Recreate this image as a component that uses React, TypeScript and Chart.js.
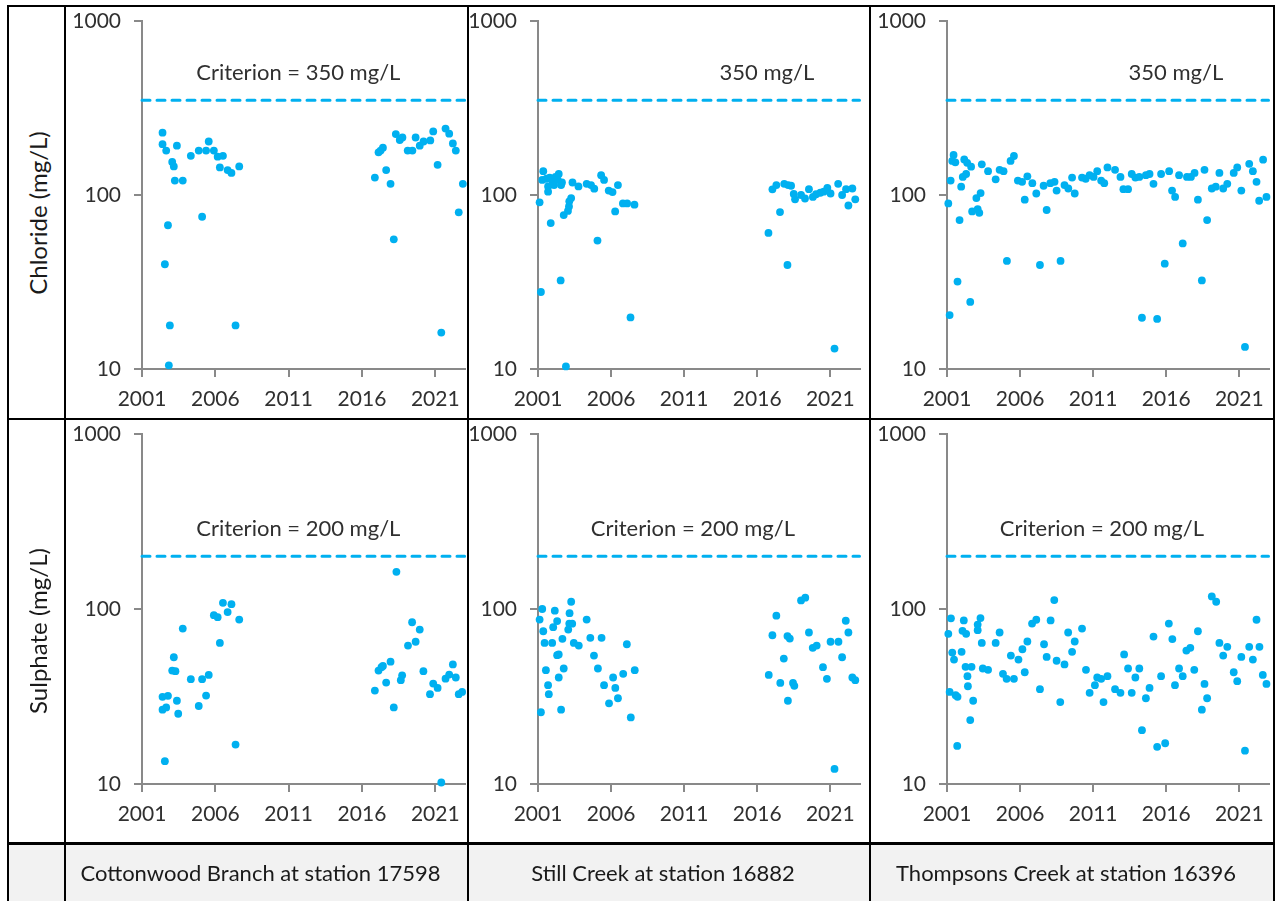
import React, { useEffect, useRef } from 'react';
import { Chart, registerables } from 'chart.js';

Chart.register(...registerables);

// ---------- data ----------
const yearTicks = [2001, 2006, 2011, 2016, 2021];
const valueTicks = [10, 100, 1000];
const yearMin = 2001;
const yearMax = 2023;

const stations = [
  'Cottonwood Branch at station 17598',
  'Still Creek at station 16882',
  'Thompsons Creek at station 16396',
];
const parameters = ['Chloride (mg/L)', 'Sulphate (mg/L)'];
const criteria = [350, 200];
const criterionLabels = [
  ['Criterion = 350 mg/L', '350 mg/L', '350 mg/L'],
  ['Criterion = 200 mg/L', 'Criterion = 200 mg/L', 'Criterion = 200 mg/L'],
];

type Pt = [number, number];

const cottonwoodChloride: Pt[] = [
  [2002.4, 228], [2002.4, 196], [2002.65, 180], [2002.77, 67], [2002.56, 40], [2002.9, 17.8],
  [2002.83, 10.5], [2003.06, 155], [2003.17, 146], [2003.38, 192], [2003.24, 121], [2003.78, 121],
  [2004.33, 168], [2004.87, 180], [2005.1, 75], [2005.37, 180], [2005.55, 203], [2005.9, 180],
  [2006.16, 166], [2006.52, 168], [2006.31, 144], [2006.84, 139], [2007.1, 134], [2007.38, 17.8],
  [2007.63, 146],
  [2016.88, 126], [2017.13, 176], [2017.27, 180], [2017.43, 187], [2017.65, 139], [2017.95, 116],
  [2018.17, 55.6], [2018.31, 224], [2018.58, 207], [2018.76, 214], [2019.12, 180], [2019.44, 180],
  [2019.66, 214], [2019.94, 192], [2020.2, 203], [2020.66, 206], [2020.86, 232], [2021.16, 149],
  [2021.41, 16.2], [2021.7, 241], [2021.95, 225], [2022.2, 198], [2022.4, 180], [2022.6, 79.5],
  [2022.88, 116],
];

const stillChloride: Pt[] = [
  [2001.11, 90.8], [2001.2, 27.7], [2001.36, 137], [2001.29, 122], [2001.58, 124], [2001.69, 112],
  [2001.69, 104.5], [2001.87, 69], [2001.8, 126], [2002.0, 119], [2002.1, 114], [2002.2, 127],
  [2002.35, 122], [2002.42, 132], [2002.58, 114], [2002.64, 118], [2002.55, 32.3], [2002.76, 76.7],
  [2002.91, 10.35], [2003.05, 81], [2003.14, 92], [2003.27, 96], [2003.12, 86], [2003.36, 118],
  [2003.77, 112], [2004.33, 116], [2004.63, 114], [2004.85, 108.7], [2005.07, 54.7], [2005.32, 130],
  [2005.52, 122], [2005.84, 106], [2006.1, 104], [2006.28, 80.5], [2006.47, 114], [2006.81, 89.5],
  [2007.1, 89.5], [2007.33, 19.8], [2007.6, 88],
  [2016.77, 60.5], [2017.04, 107.8], [2017.31, 114], [2017.56, 79.8], [2017.85, 116], [2018.07, 39.6],
  [2018.12, 114], [2018.32, 113], [2018.5, 101.4], [2018.59, 94.4], [2019.0, 100], [2019.27, 95.5],
  [2019.54, 108], [2019.81, 97.5], [2020.03, 101], [2020.32, 103], [2020.55, 104.5], [2020.8, 110],
  [2021.02, 102], [2021.29, 13.1], [2021.54, 116], [2021.81, 100], [2022.08, 108], [2022.24, 87],
  [2022.51, 109], [2022.71, 94.4],
];

const thompsonsChloride: Pt[] = [
  [2001.09, 89.5], [2001.18, 20.4], [2001.25, 121], [2001.45, 170], [2001.36, 157], [2001.57, 154],
  [2001.72, 31.8], [2001.86, 71.8], [2001.97, 111.7], [2002.08, 127], [2002.18, 160], [2002.31, 132],
  [2002.38, 153], [2002.59, 24.3], [2002.65, 145.5], [2002.72, 80.5], [2003.01, 96], [2003.1, 83],
  [2003.21, 79], [2003.3, 102.6], [2003.38, 150], [2003.81, 137], [2004.33, 123], [2004.6, 139.5],
  [2004.87, 137], [2005.1, 41.8], [2005.35, 157], [2005.58, 167.5], [2005.85, 121], [2006.14, 119],
  [2006.32, 94], [2006.5, 128], [2006.84, 117], [2007.11, 102], [2007.36, 39.6], [2007.61, 113],
  [2007.82, 82], [2008.07, 117], [2008.36, 119], [2008.5, 106], [2008.77, 41.8], [2009.04, 114],
  [2009.3, 109], [2009.56, 126], [2009.74, 102], [2010.24, 126], [2010.49, 124], [2010.76, 130],
  [2011.03, 127], [2011.28, 137], [2011.55, 121], [2011.76, 117], [2011.98, 144], [2012.5, 139.5],
  [2012.87, 127], [2013.07, 108], [2013.39, 108], [2013.64, 132], [2013.89, 126], [2014.16, 127],
  [2014.34, 19.7], [2014.61, 130], [2014.86, 132], [2015.13, 116], [2015.38, 19.4], [2015.65, 132],
  [2015.9, 40.3], [2016.2, 137], [2016.4, 106], [2016.61, 97.5], [2016.88, 130], [2017.13, 52.7],
  [2017.42, 127], [2017.69, 127], [2017.94, 134], [2018.17, 94], [2018.44, 32.3], [2018.62, 139.5],
  [2018.8, 71.8], [2019.12, 109], [2019.39, 111.7], [2019.64, 134], [2019.9, 109], [2020.18, 116],
  [2020.62, 134], [2020.86, 144], [2021.14, 106], [2021.39, 13.4], [2021.68, 151], [2021.93, 137],
  [2022.18, 119], [2022.36, 92.7], [2022.63, 159.5], [2022.86, 97.5],
];

const cottonwoodSulphate: Pt[] = [
  [2002.4, 31.5], [2002.4, 26.6], [2002.65, 27.4], [2002.77, 31.9], [2002.56, 13.5], [2003.06, 44.5],
  [2003.17, 53], [2003.28, 44.1], [2003.38, 29.9], [2003.47, 25.2], [2003.78, 77.3], [2004.33, 39.7],
  [2004.87, 27.9], [2005.1, 39.7], [2005.37, 32], [2005.55, 42], [2005.9, 92.2], [2006.16, 89.8],
  [2006.31, 64], [2006.52, 108.4], [2006.84, 96], [2007.1, 106.6], [2007.38, 16.8], [2007.63, 87],
  [2016.88, 34.2], [2017.13, 44.5], [2017.33, 46.5], [2017.43, 47.3], [2017.65, 38], [2017.95, 50],
  [2018.17, 27.4], [2018.35, 163], [2018.65, 39.2], [2018.74, 41.8], [2019.14, 61.8], [2019.42, 84],
  [2019.66, 65], [2019.94, 76.3], [2020.19, 44.1], [2020.64, 32.6], [2020.86, 37.5], [2021.16, 35.4],
  [2021.41, 10.2], [2021.7, 40], [2021.95, 42.2], [2022.2, 48.2], [2022.4, 40.6], [2022.6, 32.6],
  [2022.83, 33.6],
];

const stillSulphate: Pt[] = [
  [2001.11, 87], [2001.2, 25.7], [2001.29, 100], [2001.36, 74.6], [2001.45, 64], [2001.54, 44.7],
  [2001.69, 36.7], [2001.74, 32.6], [2001.97, 64], [2002.04, 78.7], [2002.15, 97.8], [2002.31, 85.3],
  [2002.31, 54.5], [2002.42, 55], [2002.42, 40.6], [2002.58, 26.6], [2002.67, 67.5], [2002.76, 45.7],
  [2003.07, 76.3], [2003.16, 94.6], [2003.27, 110], [2003.14, 82.6], [2003.34, 82.4], [2003.45, 64],
  [2003.79, 61.8], [2004.33, 87], [2004.58, 68.4], [2004.83, 54.2], [2005.1, 45.7], [2005.35, 68.4],
  [2005.52, 36.7], [2005.86, 28.9], [2006.14, 40.6], [2006.29, 35.4], [2006.47, 30.9], [2006.83, 42.6],
  [2007.08, 62.9], [2007.35, 24], [2007.62, 44.7],
  [2016.79, 42], [2017.04, 70.8], [2017.31, 91.6], [2017.58, 37.8], [2017.82, 52.1], [2018.07, 70],
  [2018.1, 29.9], [2018.23, 67.8], [2018.45, 37.8], [2018.54, 36.4], [2019.0, 112], [2019.29, 116],
  [2019.54, 73.4], [2019.8, 60], [2020.07, 61.8], [2020.5, 46.5], [2020.77, 39.9], [2021.02, 65],
  [2021.29, 12.2], [2021.56, 65], [2021.81, 53], [2022.06, 85.7], [2022.24, 73.4], [2022.51, 40.6],
  [2022.71, 39.2],
];

const thompsonsSulphate: Pt[] = [
  [2001.09, 72.1], [2001.27, 88.5], [2001.18, 33.6], [2001.36, 56.4], [2001.48, 51.4], [2001.59, 32.2],
  [2001.72, 31.5], [2001.7, 16.5], [2002.0, 56.9], [2002.06, 75], [2002.15, 86], [2002.31, 72.1],
  [2002.27, 46.7], [2002.4, 41.3], [2002.43, 36.2], [2002.59, 23.2], [2002.68, 46.7], [2002.79, 29.9],
  [2003.1, 75.7], [2003.1, 81.5], [2003.29, 88.7], [2003.38, 64], [2003.45, 45.7], [2003.81, 44.9],
  [2004.33, 64], [2004.6, 73.4], [2004.83, 42.6], [2005.08, 39.9], [2005.37, 54.2], [2005.58, 39.9],
  [2005.89, 51.4], [2006.16, 58.9], [2006.32, 43.5], [2006.5, 65.2], [2006.82, 82.6], [2007.11, 86.8],
  [2007.36, 34.8], [2007.64, 62.9], [2007.82, 53.2], [2008.09, 86], [2008.34, 112.4], [2008.5, 50.6],
  [2008.75, 29.4], [2009.04, 48.2], [2009.29, 73.4], [2009.56, 56.9], [2009.74, 65.2], [2010.24, 77.3],
  [2010.51, 44.9], [2010.76, 33.2], [2011.12, 36.7], [2011.28, 40.6], [2011.55, 39.9], [2011.71, 29.4],
  [2011.98, 41.3], [2012.5, 34.8], [2012.87, 33.2], [2013.12, 55], [2013.39, 45.7], [2013.64, 33.2],
  [2013.89, 40.6], [2014.16, 45.7], [2014.34, 20.3], [2014.61, 30.9], [2014.86, 35.4], [2015.13, 69.6],
  [2015.38, 16.3], [2015.65, 41.3], [2015.93, 17.1], [2016.18, 82.6], [2016.42, 67.3], [2016.6, 36.7],
  [2016.88, 45.7], [2017.13, 41.3], [2017.38, 57.9], [2017.65, 60], [2017.92, 44.9], [2018.17, 74.6],
  [2018.44, 26.6], [2018.62, 37.3], [2018.8, 30.9], [2019.12, 118], [2019.42, 110], [2019.64, 64],
  [2019.9, 54.2], [2020.18, 60.8], [2020.62, 43.5], [2020.86, 38.7], [2021.14, 53.2], [2021.39, 15.5],
  [2021.68, 60.8], [2021.93, 51.4], [2022.18, 86.8], [2022.38, 60.8], [2022.61, 42], [2022.86, 37.3],
];

const seriesGrid: Pt[][][] = [
  [cottonwoodChloride, stillChloride, thompsonsChloride],
  [cottonwoodSulphate, stillSulphate, thompsonsSulphate],
];

// where each criterion caption sits, in data units (year, mg/L)
const captionYears = [
  [2011.66, 2016.66, 2016.66],
  [2011.66, 2011.6, 2011.6],
];
const captionValues = [505, 288];

// ---------- styling / layout ----------
const BLUE = '#00b0f0';
const AXIS = '#898989';
const TEXT = '#303030';
const FONT = 'Lato, "Open Sans", sans-serif';

const colPlotLeft = [142, 538, 947];
const colPlotWidth = [324, 323, 323];
const rowPlotTop = [21, 434];
const rowPlotHeight = [348, 350];

const Y_AXIS_W = 76;
const X_AXIS_H = 44;
const PAD_TOP = 36;
const PAD_RIGHT = 4;

function Panel(props: {
  data: Pt[];
  criterion: number;
  caption: string;
  captionYear: number;
  captionValue: number;
  left: number;
  top: number;
  w: number;
  h: number;
}) {
  const ref = useRef<HTMLCanvasElement>(null);
  const { data, criterion, caption, captionYear, captionValue, left, top, w, h } = props;
  const cw = Y_AXIS_W + w + PAD_RIGHT;
  const ch = PAD_TOP + h + X_AXIS_H;

  useEffect(() => {
    const captionPlugin = {
      id: 'criterionCaption',
      afterDatasetsDraw(chart: any) {
        const ctx = chart.ctx;
        const x = chart.scales.x.getPixelForValue(captionYear);
        const y = chart.scales.y.getPixelForValue(captionValue);
        ctx.save();
        ctx.font = `22px ${FONT}`;
        ctx.fillStyle = TEXT;
        ctx.textAlign = 'center';
        ctx.textBaseline = 'middle';
        ctx.fillText(caption, x, y);
        ctx.restore();
      },
    };
    const chart = new Chart(ref.current as HTMLCanvasElement, {
      type: 'scatter',
      data: {
        datasets: [
          {
            type: 'scatter',
            data: data.map(([x, y]) => ({ x, y })),
            pointRadius: 3.9,
            pointHoverRadius: 3.9,
            backgroundColor: BLUE,
            borderWidth: 0,
            clip: false,
          } as any,
          {
            type: 'line',
            data: [
              { x: yearMin, y: criterion },
              { x: yearMax, y: criterion },
            ],
            borderColor: BLUE,
            borderWidth: 3,
            borderDash: [8, 7],
            borderCapStyle: 'round',
            pointRadius: 0,
            fill: false,
            clip: false,
          } as any,
        ],
      },
      options: {
        responsive: false,
        animation: false,
        events: [],
        layout: { padding: { left: 0, top: PAD_TOP, right: PAD_RIGHT, bottom: 0 } },
        plugins: { legend: { display: false }, tooltip: { enabled: false } },
        scales: {
          x: {
            type: 'linear',
            min: yearMin,
            max: yearMax,
            afterBuildTicks: (s: any) => {
              s.ticks = yearTicks.map((v) => ({ value: v }));
            },
            afterFit: (s: any) => {
              s.height = X_AXIS_H;
            },
            grid: { drawOnChartArea: false, drawTicks: true, tickLength: 8, color: AXIS, lineWidth: 2 },
            border: { display: true, color: AXIS, width: 2 },
            ticks: {
              callback: (v: any) => String(v),
              font: { family: FONT, size: 21 },
              color: TEXT,
              padding: 10,
              maxRotation: 0,
              autoSkip: false,
            },
          },
          y: {
            type: 'logarithmic',
            min: 10,
            max: 1000,
            afterBuildTicks: (s: any) => {
              s.ticks = valueTicks.map((v) => ({ value: v }));
            },
            afterFit: (s: any) => {
              s.width = Y_AXIS_W;
            },
            grid: { drawOnChartArea: false, drawTicks: true, tickLength: 8, color: AXIS, lineWidth: 2 },
            border: { display: true, color: AXIS, width: 2 },
            ticks: {
              callback: (v: any) => String(v),
              font: { family: FONT, size: 21 },
              color: TEXT,
              padding: 13,
              autoSkip: false,
            },
          },
        },
      } as any,
      plugins: [captionPlugin],
    });
    return () => chart.destroy();
  }, []);

  return (
    <canvas
      ref={ref}
      width={cw}
      height={ch}
      style={{ position: 'absolute', left: left - Y_AXIS_W, top: top - PAD_TOP, width: cw, height: ch }}
    />
  );
}

function Line(p: { l: number; t: number; w: number; h: number }) {
  return (
    <div
      style={{ position: 'absolute', left: p.l, top: p.t, width: p.w, height: p.h, background: '#000', zIndex: 5 }}
    />
  );
}

export default function App() {
  const colCells = [
    [66, 467],
    [469, 869],
    [871, 1273],
  ];
  const rowCells = [
    [7, 418],
    [420, 842],
  ];
  return (
    <div
      style={{
        position: 'absolute',
        left: 0,
        top: 0,
        width: 1276,
        height: 901,
        background: '#fff',
        overflow: 'hidden',
        fontFamily: FONT,
      }}
    >
      <div style={{ position: 'absolute', left: 9, top: 845, width: 1264, height: 56, background: '#f2f2f2' }} />
      {seriesGrid.map((row, r) =>
        row.map((data, c) => (
          <Panel
            key={`${r}-${c}`}
            data={data}
            criterion={criteria[r]}
            caption={criterionLabels[r][c]}
            captionYear={captionYears[r][c]}
            captionValue={captionValues[r]}
            left={colPlotLeft[c]}
            top={rowPlotTop[r]}
            w={colPlotWidth[c]}
            h={rowPlotHeight[r]}
          />
        ))
      )}
      {parameters.map((p, r) => (
        <div
          key={p}
          style={{
            position: 'absolute',
            left: 38,
            top: (rowCells[r][0] + rowCells[r][1]) / 2,
            width: 400,
            textAlign: 'center',
            transform: 'translate(-50%, -50%) rotate(-90deg)',
            fontSize: 24,
            lineHeight: '28px',
            color: '#1a1a1a',
            whiteSpace: 'nowrap',
          }}
        >
          {p}
        </div>
      ))}
      {stations.map((s, c) => (
        <div
          key={s}
          style={{
            position: 'absolute',
            left: colCells[c][0],
            top: 845,
            width: colCells[c][1] - colCells[c][0] - 12,
            height: 56,
            lineHeight: '56px',
            textAlign: 'center',
            fontSize: 22,
            color: '#1a1a1a',
            whiteSpace: 'nowrap',
          }}
        >
          {s}
        </div>
      ))}
      {/* table borders */}
      <Line l={7} t={5} w={1268} h={2} />
      <Line l={7} t={5} w={2} h={896} />
      <Line l={64} t={5} w={2} h={896} />
      <Line l={467} t={5} w={2} h={896} />
      <Line l={869} t={5} w={2} h={896} />
      <Line l={1273} t={5} w={2} h={896} />
      <Line l={7} t={418} w={1268} h={2} />
      <Line l={7} t={842} w={1268} h={3} />
    </div>
  );
}
